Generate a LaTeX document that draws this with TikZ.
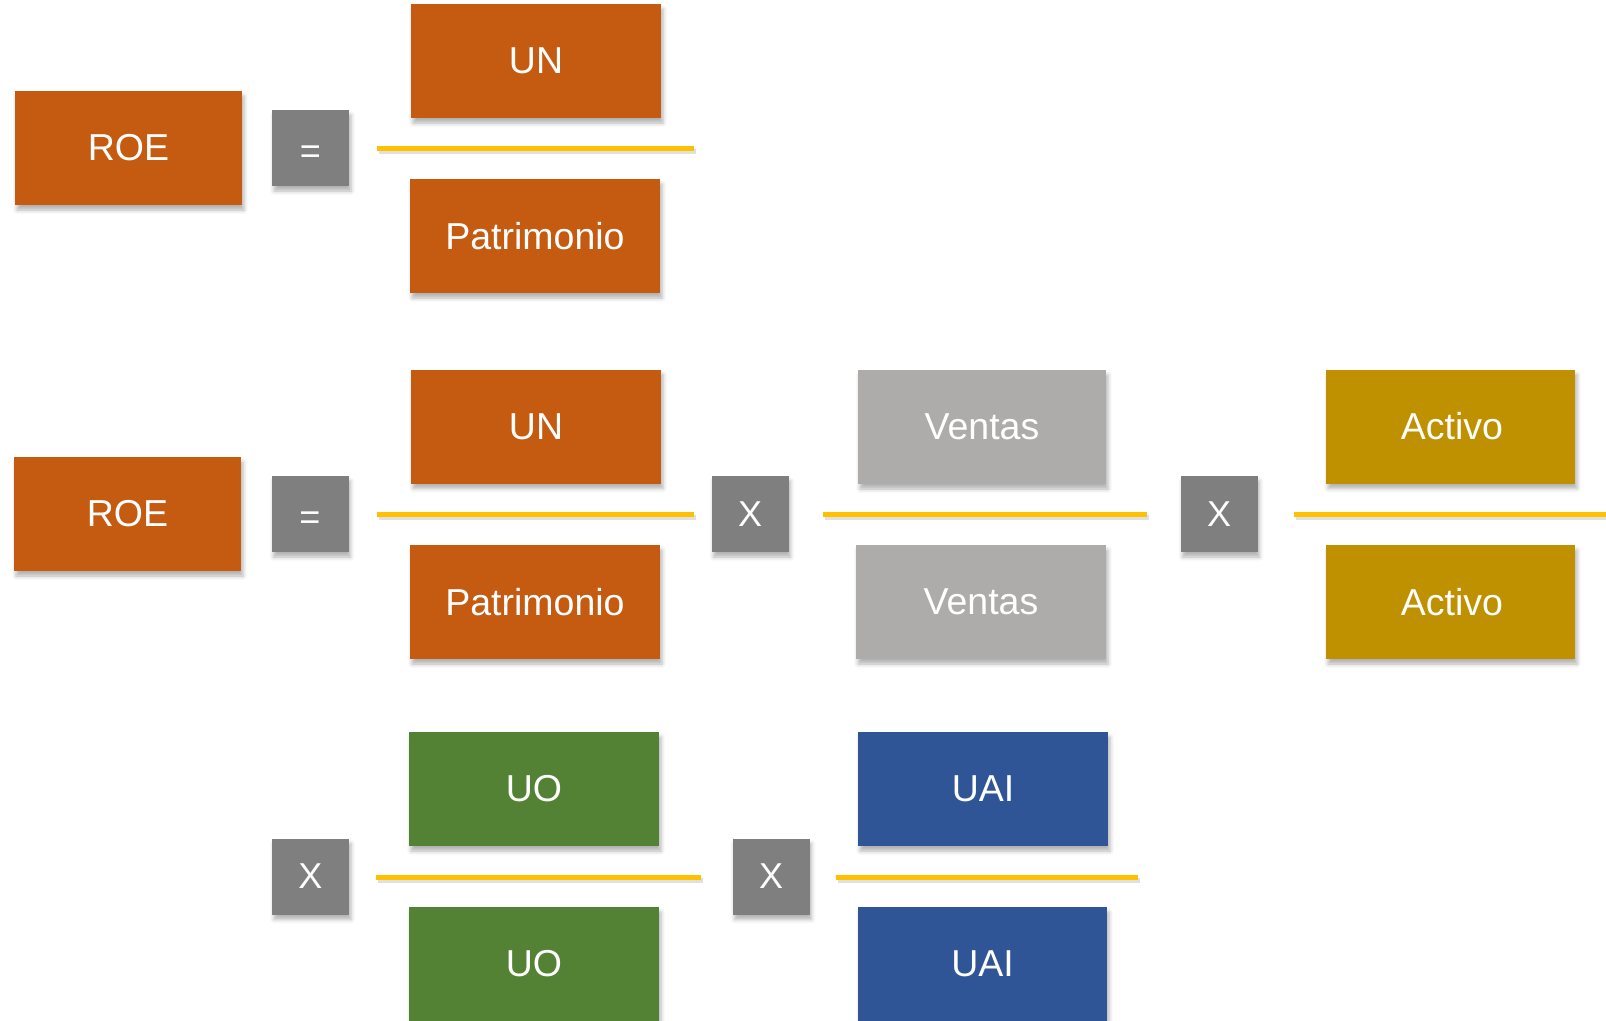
\documentclass[tikz,border=0pt]{standalone}
\usepackage{fontspec}
\setmainfont{Liberation Sans}
\usetikzlibrary{shadows.blur}
\definecolor{orng}{HTML}{C55A11}
\definecolor{opgray}{HTML}{7F7F7F}
\definecolor{ltgray}{HTML}{AEABAB}
\definecolor{gold}{HTML}{BF9000}
\definecolor{grn}{HTML}{548235}
\definecolor{blu}{HTML}{2F5597}
\definecolor{ylw}{HTML}{FFC000}
\tikzset{
  shd/.style={blur shadow={shadow xshift=2pt, shadow yshift=-5pt, shadow blur radius=4pt, shadow opacity=30}},
  termbox/.style={rectangle, inner sep=0pt, minimum width=250pt, minimum height=114pt, text=white, font=\fontsize{37.5}{44}\selectfont, shd},
  opbox/.style={rectangle, inner sep=0pt, minimum width=77pt, minimum height=76pt, fill=opgray, text=white, font=\fontsize{36}{43}\selectfont, shd},
  optext/.style={inner sep=0pt, text=white, font=\fontsize{36}{43}\selectfont},
  bar/.style={draw=ylw, line width=5pt},
  barshd/.style={draw=black, opacity=0.12, line width=5pt},
}
\begin{document}
\begin{tikzpicture}[x=1pt,y=-1pt]
\useasboundingbox (0,0) rectangle (1606,1020);
% Row 1
\node[termbox, fill=orng, minimum width=227pt] (roeA) at (128.5,148) {ROE};
\node[opbox] (eqA) at (310.5,148) {};
\node[optext] (eqAt) at ([yshift=-7pt]eqA.center) {=};
\node[termbox, fill=orng] (unA) at (536,61) {UN};
\node[termbox, fill=orng] (patA) at (535,236) {Patrimonio};
\coordinate (a1) at (377,148); \coordinate (a2) at (694,148);
% Row 2
\node[termbox, fill=orng, minimum width=227pt] (roeB) at (127.5,514) {ROE};
\node[opbox] (eqB) at (310,514) {};
\node[optext] (eqBt) at ([yshift=-7pt]eqB.center) {=};
\node[termbox, fill=orng] (unB) at (536,426.5) {UN};
\node[termbox, fill=orng] (patB) at (535,602) {Patrimonio};
\coordinate (b1) at (377,514); \coordinate (b2) at (694,514);
\node[opbox] (xB1) at (750,514) {X};
\node[termbox, fill=ltgray, minimum width=248pt] (venA) at (982,427) {Ventas};
\node[termbox, fill=ltgray] (venB) at (981,602) {Ventas};
\coordinate (c1) at (823,514); \coordinate (c2) at (1147,514);
\node[opbox] (xB2) at (1219,514) {X};
\node[termbox, fill=gold, minimum width=249pt] (actA) at (1450.5,426.5) {\hspace*{3pt}Activo};
\node[termbox, fill=gold, minimum width=249pt] (actB) at (1450.5,602) {\hspace*{3pt}Activo};
\coordinate (d1) at (1294,514); \coordinate (d2) at (1610,514);
% Row 3
\node[opbox] (xC1) at (310.5,876.5) {X};
\node[termbox, fill=grn] (uoA) at (534,789) {UO};
\node[termbox, fill=grn] (uoB) at (534,964) {UO};
\coordinate (e1) at (376,877); \coordinate (e2) at (701,877);
\node[opbox] (xC2) at (771,876.5) {X};
\node[termbox, fill=blu] (uaiA) at (983,789) {UAI};
\node[termbox, fill=blu, minimum width=249pt] (uaiB) at (982.5,964) {UAI};
\coordinate (f1) at (836,877); \coordinate (f2) at (1138,877);
% fraction bars
\foreach \p/\q in {a1/a2,b1/b2,c1/c2,d1/d2,e1/e2,f1/f2}{
  \draw[barshd] ([shift={(1.5,3)}]\p) -- ([shift={(1.5,3)}]\q);
  \draw[bar] (\p) -- (\q);
}
\end{tikzpicture}
\end{document}
